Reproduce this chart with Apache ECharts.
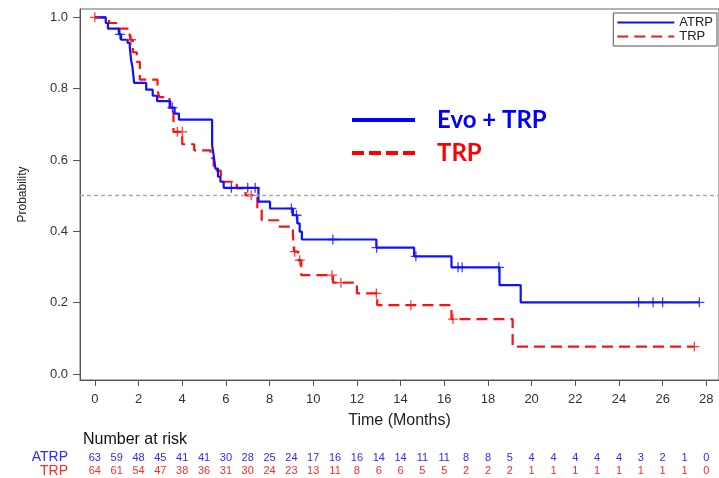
<!DOCTYPE html>
<html>
<head>
<meta charset="utf-8">
<script src="https://cdn.jsdelivr.net/npm/echarts@6/dist/echarts.min.js"></script>
<style>html,body{margin:0;padding:0;background:#fff;}#c{width:719px;height:478px;}</style>
</head>
<body>
<div id="c"></div>
<script>
// ---- data ----
const timeTicks = [0,2,4,6,8,10,12,14,16,18,20,22,24,26,28];
const probTicks = [0,0.2,0.4,0.6,0.8,1.0];
const riskTimes = [0,1,2,3,4,5,6,7,8,9,10,11,12,13,14,15,16,17,18,19,20,21,22,23,24,25,26,27,28];
const atrpRisk = [63,59,48,45,41,41,30,28,25,24,17,16,16,14,14,11,11,8,8,5,4,4,4,4,4,3,2,1,0];
const trpRisk  = [64,61,54,47,38,36,31,30,24,23,13,11,8,6,6,5,5,2,2,2,1,1,1,1,1,1,1,1,0];

const atrpT = [0,0.5,0.6,1.1,1.2,1.5,1.6,1.66,1.72,1.8,2.35,2.65,2.85,3.45,3.65,3.85,5.37,5.44,5.52,5.64,5.75,5.9,7.49,8.02,9.07,9.27,9.38,9.48,12.89,14.62,16.33,18.53,19.5,27.68];
const atrpS = [1.0,0.984,0.968,0.952,0.937,0.928,0.917,0.88,0.861,0.816,0.797,0.78,0.765,0.747,0.73,0.713,0.641,0.613,0.576,0.553,0.539,0.522,0.483,0.464,0.445,0.422,0.399,0.377,0.354,0.33,0.299,0.249,0.201,0.201];
const atrpCensT = [1.15,3.55,6.25,7.0,7.34,9.0,9.23,10.9,12.9,14.7,16.63,16.82,18.5,24.9,25.56,26.0,27.68];
const atrpCensS = [0.952,0.747,0.522,0.522,0.522,0.464,0.445,0.377,0.354,0.33,0.299,0.299,0.299,0.201,0.201,0.201,0.201];

const trpT = [0,0.65,1.05,1.59,1.63,1.74,1.92,2.06,2.87,2.95,3.42,3.6,4.0,4.55,5.3,5.44,5.77,6.5,6.9,7.44,7.64,8.4,9.07,9.12,9.3,9.45,10.9,12.0,12.93,16.33,19.13,27.45];
const trpS = [1.0,0.984,0.968,0.953,0.937,0.902,0.875,0.825,0.795,0.776,0.735,0.679,0.644,0.627,0.605,0.57,0.539,0.52,0.501,0.46,0.431,0.413,0.39,0.343,0.319,0.277,0.256,0.226,0.193,0.154,0.077,0.077];
const trpCensT = [0,1.66,3.78,4.0,7.16,9.15,9.38,10.86,11.27,12.89,14.47,16.4,27.45];
const trpCensS = [1.0,0.937,0.679,0.679,0.501,0.343,0.319,0.277,0.256,0.226,0.193,0.154,0.077];

// ---- chart ----
const BLUE = '#1010ff', RED = '#ff1010';
const FONT = 'Liberation Sans';
const xMin = -0.68, xMax = 28.58;
const plus = 'path://M0,4.35H10V5.65H0ZM4.35,0H5.65V10H4.35Z';
const pairs = (a, b) => a.map((t, i) => [t, b[i]]);

const chart = echarts.init(document.getElementById('c'), null, {renderer: 'canvas'});
const riskAxis = (gi, arr, color) => ({
  gridIndex: gi, type: 'value', min: xMin, max: xMax,
  axisLine: {show: false}, axisTick: {show: false}, splitLine: {show: false},
  axisLabel: {customValues: riskTimes, margin: 1, fontSize: 11, fontFamily: FONT, color: color,
    formatter: v => String(arr[Math.round(v)])}
});
chart.setOption({
  animation: false,
  textStyle: {fontFamily: FONT},
  grid: [
    {left: 80, top: 9, width: 645, height: 371, show: true, borderColor: '#666', borderWidth: 1},
    {left: 80, top: 445, width: 645, height: 6},
    {left: 80, top: 458, width: 645, height: 6}
  ],
  legend: {
    data: ['ATRP', 'TRP'], orient: 'vertical', right: 2, top: 13,
    borderColor: '#555', borderWidth: 1, padding: [3, 4, 3, 3], itemGap: 1,
    itemWidth: 57, itemHeight: 14,
    itemStyle: {opacity: 0},
    textStyle: {fontSize: 13, fontFamily: FONT, color: '#222'}
  },
  xAxis: [
    {
      gridIndex: 0, type: 'value', min: xMin, max: xMax,
      name: 'Time (Months)', nameLocation: 'middle', nameGap: 33,
      nameTextStyle: {fontSize: 16, fontFamily: FONT, color: '#222'},
      axisLine: {onZero: false, lineStyle: {color: '#555', width: 1}},
      axisTick: {customValues: timeTicks, length: 6, lineStyle: {color: '#555'}},
      axisLabel: {customValues: timeTicks, margin: 13, fontSize: 13, fontFamily: FONT, color: '#333'},
      splitLine: {show: false}
    },
    riskAxis(1, atrpRisk, '#2a2aff'),
    riskAxis(2, trpRisk, '#ff2a2a')
  ],
  yAxis: [
    {
      gridIndex: 0, type: 'value', min: -0.0168, max: 1.0232,
      name: 'Probability', nameLocation: 'middle', nameGap: 51,
      nameTextStyle: {fontSize: 12, fontFamily: FONT, color: '#222'},
      axisLine: {onZero: false, lineStyle: {color: '#555', width: 1}},
      axisTick: {customValues: probTicks, length: 7, lineStyle: {color: '#555'}},
      axisLabel: {customValues: probTicks, margin: 12, fontSize: 13, fontFamily: FONT, color: '#333',
        formatter: v => v.toFixed(1)},
      splitLine: {show: false}
    },
    {gridIndex: 1, type: 'value', show: false},
    {gridIndex: 2, type: 'value', show: false}
  ],
  series: [
    {
      name: 'TRP', type: 'line', step: 'end', symbol: 'none', data: pairs(trpT, trpS),
      lineStyle: {color: RED, width: 2.2, type: [11, 6]}, itemStyle: {color: RED}, z: 2
    },
    {
      name: 'ATRP', type: 'line', step: 'end', symbol: 'none', data: pairs(atrpT, atrpS),
      lineStyle: {color: BLUE, width: 2.2}, itemStyle: {color: BLUE}, z: 3,
      markLine: {silent: true, symbol: 'none', label: {show: false},
        lineStyle: {color: '#aaa', type: [4, 3], width: 1.3}, data: [{yAxis: 0.5}]}
    },
    {
      name: 'TRP censored', type: 'scatter', symbol: plus, symbolSize: 10,
      data: pairs(trpCensT, trpCensS), itemStyle: {color: RED}, z: 4
    },
    {
      name: 'ATRP censored', type: 'scatter', symbol: plus, symbolSize: 10,
      data: pairs(atrpCensT, atrpCensS), itemStyle: {color: BLUE}, z: 5
    }
  ],
  graphic: [
    {type: 'line', shape: {x1: 352, y1: 120, x2: 415, y2: 120}, style: {stroke: '#0000ff', lineWidth: 4}},
    {type: 'text', style: {text: 'Evo + TRP', x: 437, y: 120, textVerticalAlign: 'middle',
      font: 'bold 24px Lato', fill: '#0000ff'}},
    {type: 'line', shape: {x1: 352, y1: 153, x2: 415, y2: 153}, style: {stroke: '#ff0000', lineWidth: 4, lineDash: [12, 5]}},
    {type: 'text', style: {text: 'TRP', x: 437, y: 153, textVerticalAlign: 'middle',
      font: 'bold 24px Lato', fill: '#ff0000'}},
    {type: 'text', style: {text: 'Number at risk', x: 83, y: 440, textVerticalAlign: 'middle',
      font: '16px "Liberation Sans"', fill: '#111'}},
    {type: 'text', style: {text: 'ATRP', x: 68, y: 457.5, textAlign: 'right', textVerticalAlign: 'middle',
      font: '14px "Liberation Sans"', fill: '#2a2aff'}},
    {type: 'text', style: {text: 'TRP', x: 68, y: 471, textAlign: 'right', textVerticalAlign: 'middle',
      font: '14px "Liberation Sans"', fill: '#ff2a2a'}}
  ]
});
</script>
</body>
</html>
